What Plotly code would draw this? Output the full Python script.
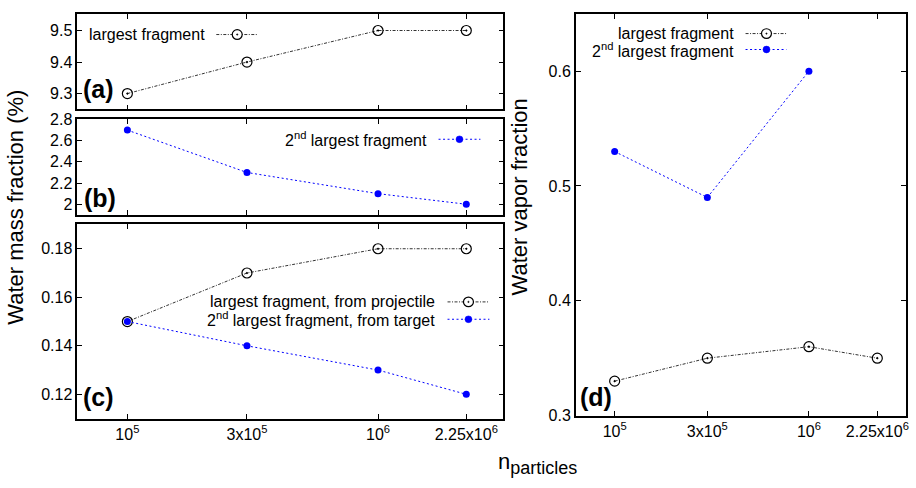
import plotly.graph_objects as go

W, H = 916, 488

# ---- data ----
n_particles = [1e5, 3e5, 1e6, 2.25e6]
x_ticktext = ["10<sup>5</sup>", "3x10<sup>5</sup>", "10<sup>6</sup>", "2.25x10<sup>6</sup>"]

a_largest = [9.3, 9.4, 9.5, 9.5]
b_second = [2.7, 2.3, 2.1, 2.0]
c_largest_proj = [0.15, 0.17, 0.18, 0.18]
c_second_target = [0.15, 0.14, 0.13, 0.12]
d_largest = [0.33, 0.35, 0.36, 0.35]
d_second = [0.53, 0.49, 0.60]

FONT = "Liberation Sans, Arial, Helvetica, sans-serif"
BLACK_LINE = "#333333"
BLUE = "#0000ff"
BLACK_DASH = "3px,1.5px,1px,1.5px"
BLUE_DASH = "2px,2.5px"


def fx(px):
    return px / W


def fy(py):
    return 1 - py / H


fig = go.Figure()

black_style = dict(mode="lines+markers",
                   line=dict(color=BLACK_LINE, width=1, dash=BLACK_DASH),
                   marker=dict(symbol="circle-dot", size=10, color="rgba(0,0,0,0)",
                               line=dict(color="black", width=1.2)),
                   showlegend=False, hoverinfo="skip")
blue_style = dict(mode="lines+markers",
                  line=dict(color=BLUE, width=1, dash=BLUE_DASH),
                  marker=dict(symbol="circle", size=7, color=BLUE),
                  showlegend=False, hoverinfo="skip")

fig.add_trace(go.Scatter(x=n_particles, y=a_largest, xaxis="x", yaxis="y", **black_style))
fig.add_trace(go.Scatter(x=n_particles, y=b_second, xaxis="x2", yaxis="y2", **blue_style))
fig.add_trace(go.Scatter(x=n_particles, y=c_largest_proj, xaxis="x3", yaxis="y3", **black_style))
fig.add_trace(go.Scatter(x=n_particles, y=c_second_target, xaxis="x3", yaxis="y3", **blue_style))
fig.add_trace(go.Scatter(x=n_particles, y=d_largest, xaxis="x4", yaxis="y4", **black_style))
fig.add_trace(go.Scatter(x=n_particles[:3], y=d_second, xaxis="x4", yaxis="y4", **blue_style))

tickfont = dict(family=FONT, size=16, color="black")


def xaxis(dom, anchor, labels):
    return dict(type="log", range=[4.8, 6.5], domain=dom, anchor=anchor,
                tickvals=n_particles, ticktext=x_ticktext, showticklabels=labels,
                ticks="inside", ticklen=5, tickcolor="black", tickwidth=1,
                showline=True, linecolor="black", linewidth=1.5, mirror="ticks",
                showgrid=False, zeroline=False, tickfont=tickfont)


def yaxis(dom, anchor, rng, vals):
    return dict(range=rng, domain=dom, anchor=anchor, tickvals=vals,
                ticks="inside", ticklen=5, tickcolor="black", tickwidth=1,
                showline=True, linecolor="black", linewidth=1.5, mirror="ticks",
                showgrid=False, zeroline=False, tickfont=tickfont)


LX = [fx(77.5), fx(505)]
RX = [fx(577.7), fx(909)]

fig.update_layout(
    width=W, height=H,
    margin=dict(l=0, r=0, t=0, b=0),
    paper_bgcolor="white", plot_bgcolor="white",
    font=dict(family=FONT, color="black"),
    xaxis=xaxis(LX, "y", False),
    yaxis=yaxis([fy(105), fy(6)], "x", [9.25, 9.553], [9.3, 9.4, 9.5]),
    xaxis2=xaxis(LX, "y2", False),
    yaxis2=yaxis([fy(214.3), fy(115)], "x2", [1.9, 2.805], [2.0, 2.2, 2.4, 2.6, 2.8]),
    xaxis3=xaxis(LX, "y3", True),
    yaxis3=yaxis([fy(425.4), fy(224.3)], "x3", [0.11, 0.19], [0.12, 0.14, 0.16, 0.18]),
    xaxis4=xaxis(RX, "y4", True),
    yaxis4=yaxis([fy(422.3), fy(6)], "x4", [0.3, 0.65], [0.3, 0.4, 0.5, 0.6]),
)

annotations = []
shapes = []

# panel labels
for lab, (px, py) in {"(a)": (99, 84), "(b)": (100, 197), "(c)": (99, 403), "(d)": (598, 403)}.items():
    annotations.append(dict(text="<b>%s</b>" % lab, x=fx(px), y=fy(py), xref="paper", yref="paper",
                            xanchor="center", yanchor="middle", showarrow=False,
                            font=dict(family=FONT, size=25, color="black")))

# axis titles
annotations.append(dict(text="Water mass fraction (%)", x=fx(16), y=fy(206), xref="paper", yref="paper",
                        textangle=-90, showarrow=False, xanchor="center", yanchor="middle",
                        font=dict(family=FONT, size=22, color="black")))
annotations.append(dict(text="Water vapor fraction", x=fx(521), y=fy(196), xref="paper", yref="paper",
                        textangle=-90, showarrow=False, xanchor="center", yanchor="middle",
                        font=dict(family=FONT, size=22, color="black")))
annotations.append(dict(text="n<sub><span style='font-size:18px'>particles</span></sub>",
                        x=fx(539), y=fy(472), xref="paper", yref="paper",
                        showarrow=False, xanchor="center", yanchor="middle",
                        font=dict(family=FONT, size=22, color="black")))


def legend_entry(text, xr, yc, x0, x1, xm, kind):
    annotations.append(dict(text=text, x=fx(xr), y=fy(yc), xref="paper", yref="paper",
                            xanchor="right", yanchor="middle", showarrow=False,
                            font=dict(family=FONT, size=16, color="black")))
    col = BLACK_LINE if kind == "black" else BLUE
    dash = BLACK_DASH if kind == "black" else BLUE_DASH
    shapes.append(dict(type="line", xref="paper", yref="paper", x0=fx(x0), x1=fx(x1),
                       y0=fy(yc), y1=fy(yc), line=dict(color=col, width=1, dash=dash)))
    if kind == "black":
        r = 5
        shapes.append(dict(type="circle", xref="paper", yref="paper",
                           x0=fx(xm - r), x1=fx(xm + r), y0=fy(yc - r), y1=fy(yc + r),
                           line=dict(color="black", width=1.2), fillcolor="white"))
        shapes.append(dict(type="circle", xref="paper", yref="paper",
                           x0=fx(xm - 0.7), x1=fx(xm + 0.7), y0=fy(yc - 0.7), y1=fy(yc + 0.7),
                           line=dict(color="black", width=0.5), fillcolor="black"))
    else:
        r = 3.5
        shapes.append(dict(type="circle", xref="paper", yref="paper",
                           x0=fx(xm - r), x1=fx(xm + r), y0=fy(yc - r), y1=fy(yc + r),
                           line=dict(color=BLUE, width=0.5), fillcolor=BLUE))


legend_entry("largest fragment", 208, 27.5, 217, 258, 238, "black")
legend_entry("2<sup>nd</sup> largest fragment", 430, 136, 440, 482, 461, "blue")
legend_entry("largest fragment, from projectile", 438, 304.5, 449, 491, 470, "black")
legend_entry("2<sup>nd</sup> largest fragment, from target", 438, 322.5, 449, 491, 470, "blue")
legend_entry("largest fragment", 738, 26.5, 748, 789, 769, "black")
legend_entry("2<sup>nd</sup> largest fragment", 738, 43, 748, 789, 769, "blue")

fig.update_layout(annotations=annotations, shapes=shapes)

fig.write_html("out.html",
               config={"displayModeBar": False},
               post_script="document.body.style.margin='0';document.body.style.overflow='hidden';")
